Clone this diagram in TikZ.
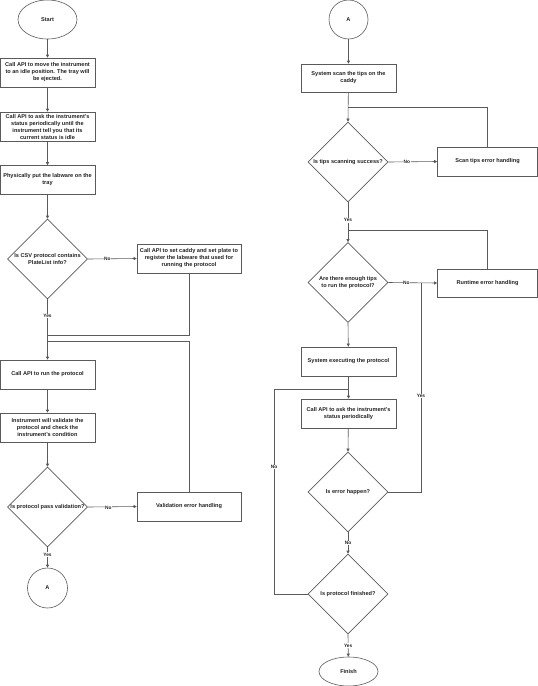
\documentclass[tikz,border=0pt]{standalone}
\usepackage{fontspec}
\setmainfont{Liberation Sans}
\usetikzlibrary{shapes.geometric,arrows.meta}
\definecolor{ln}{HTML}{5A5A5A}
\definecolor{tx}{HTML}{222222}
\begin{document}
\begin{tikzpicture}[x=1pt,y=-1pt,
  font=\fontsize{5.6}{7}\selectfont\bfseries, text=tx,
  box/.style={draw=ln,line width=0.6pt,rectangle,inner sep=0pt,minimum width=95pt,minimum height=29pt,align=center},
  dia/.style={draw=ln,line width=0.6pt,diamond,inner sep=0pt,minimum width=80pt,minimum height=80pt},
  dtext/.style={align=center,inner sep=0pt},
  oval/.style={draw=ln,line width=0.6pt,ellipse,inner sep=0pt,minimum width=59pt,minimum height=39pt},
  circ/.style={draw=ln,line width=0.6pt,circle,inner sep=0pt,minimum size=39pt},
  conn/.style={draw=ln,line width=0.6pt},
  arr/.style={conn,-{Triangle[length=3pt,width=3pt]}},
  lbl/.style={fill=white,inner sep=0.6pt,font=\fontsize{4.8}{5}\selectfont\bfseries}]
\useasboundingbox (0,0) rectangle (538,686);
% left column
\node[oval] (start) at (47.5,19.5) {Start};
\node[box] (b1) at (47.5,72.5) {Call API to move the instrument\\to an idle position. The tray will\\be ejected.};
\node[box] (b2) at (47.5,126.5) {Call API to ask the instrument's\\status periodically until the\\instrument tell you that its\\current status is idle};
\node[box] (b3) at (47.5,180) {Physically put the labware on the\\tray};
\node[dia] (d1) at (47.5,259) {};
\node[dtext] (t1) at (d1) {Is CSV protocol contains\\PlateList info?};
\node[box,minimum width=104pt] (caddy) at (189,258.5) {Call API to set caddy and set plate to\\register the labware that used for\\running the protocol};
\node[box] (run) at (47.5,374.5) {Call API to run the protocol};
\node[box] (val) at (47.5,427.5) {Instrument will validate the\\protocol and check the\\instrument's condition};
\node[dia] (d2) at (47.5,507) {};
\node[dtext] (t2) at (d2) {Is protocol pass validation?};
\node[box,minimum width=104pt] (valerr) at (189,506.5) {Validation error handling};
\node[circ,minimum size=40pt] (a1) at (47.5,588) {A};
\coordinate (j1) at (47.5,335);
\coordinate (j2) at (47.5,341);
% right column
\node[circ] (a2) at (348.5,19.5) {A};
\node[box,minimum height=28pt] (scan) at (348.5,78) {System scan the tips on the\\caddy};
\node[dia] (d3) at (348,162) {};
\node[dtext] (t3) at (d3) {Is tips scanning success?};
\node[box,minimum width=100pt] (scanerr) at (487.5,161.5) {Scan tips error handling};
\node[dia] (d4) at (348,282.5) {};
\node[dtext] (t4) at (d4) {Are there enough tips\\to run the protocol?};
\node[box,minimum width=100pt,minimum height=28pt] (runerr) at (487.5,283) {Runtime error handling};
\node[box] (exec) at (348.5,361.5) {System executing the protocol};
\node[box] (ask) at (348.5,413.5) {Call API to ask the instrument's\\status periodically};
\node[dia] (d5) at (348,492) {};
\node[dtext] (t5) at (d5) {Is error happen?};
\node[dia] (d6) at (348,594) {};
\node[dtext] (t6) at (d6) {Is protocol finished?};
\node[oval,minimum height=29pt] (fin) at (348.5,671.5) {Finish};
\coordinate (j3) at (348,107);
\coordinate (j4) at (348,230);
\coordinate (j5) at (421,283);
\coordinate (c5) at (421,492);
\coordinate (c6) at (274,594);
\coordinate (j6) at (274,389);
\coordinate (j7) at (348.5,389);
% left connectors
\draw[arr] (start) -- (b1);
\draw[arr] (b1) -- (b2);
\draw[arr] (b2) -- (b3);
\draw[arr] (b3) -- (d1.north);
\draw[arr] (d1.east) -- node[lbl,pos=0.4]{No} (caddy.west);
\draw[arr] (d1.south) -- node[lbl,pos=0.28]{Yes} (run.north);
\draw[conn] (caddy.south) |- (j1);
\draw[conn] (valerr.north) |- (j2);
\draw[arr] (run) -- (val);
\draw[arr] (val) -- (d2.north);
\draw[arr] (d2.east) -- node[lbl,pos=0.42,yshift=-1pt]{No} (valerr.west);
\draw[arr] (d2.south) -- node[lbl,pos=0.35]{Yes} (a1);
% right connectors
\draw[arr] (a2) -- (scan);
\draw[arr] (scan) -- (d3.north);
\draw[conn] (scanerr.north) |- (j3);
\draw[arr] (d3.east) -- node[lbl,pos=0.38]{No} (scanerr.west);
\draw[arr] (d3.south) -- node[lbl,pos=0.45]{Yes} (d4.north);
\draw[conn] (runerr.north) |- (j4);
\draw[arr] (d4.east) -- node[lbl,pos=0.37]{No} (runerr.west);
\draw[arr] (d4.south) -- (exec);
\draw[arr] (exec) -- (ask);
\draw[arr] (ask) -- (d5.north);
\draw[conn] (d5.east) -- (c5) -- node[lbl,pos=0.46]{Yes} (j5);
\draw[arr] (d5.south) -- node[lbl,pos=0.5]{No} (d6.north);
\draw[conn] (d6.west) -- (c6) -- node[lbl,pos=0.62]{No} (j6) -- (j7);
\draw[arr] (d6.south) -- node[lbl,pos=0.5]{Yes} (fin);
\end{tikzpicture}
\end{document}
